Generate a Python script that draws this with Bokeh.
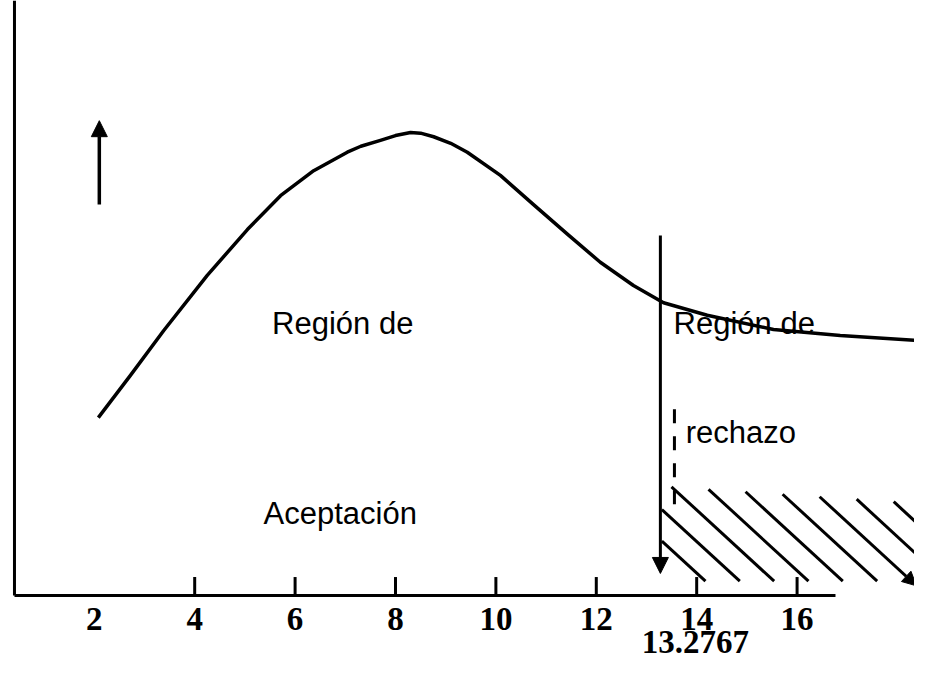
from bokeh.plotting import figure
from bokeh.models import Range1d, Arrow, NormalHead, ColumnDataSource
from bokeh.core.properties import value
from bokeh.embed import file_html
from bokeh.resources import INLINE

# ---- data ----
x_ticks = [2, 4, 6, 8, 10, 12, 14, 16]
tick_labels = ["2", "4", "6", "8", "10", "12", "14", "16"]
critical_value = 13.2767
critical_label = "13.2767"

curve_x = [2.08, 2.72, 3.38, 4.25, 5.05, 5.71, 6.37, 7.04, 7.31, 7.70, 8.00, 8.30, 8.50,
           8.76, 9.10, 9.43, 10.09, 10.75, 11.43, 12.08, 12.74, 13.34, 14.21, 15.53, 16.86, 18.66]
curve_y = [0.299, 0.370, 0.445, 0.538, 0.615, 0.672, 0.714, 0.745, 0.755, 0.765, 0.773, 0.778, 0.777,
           0.771, 0.760, 0.745, 0.706, 0.657, 0.607, 0.560, 0.521, 0.492, 0.471, 0.447, 0.437, 0.427]

region_texts = ["Región de", "Aceptación"]
reject_texts = ["Región de", "rechazo"]

# ---- figure ----
W, H = 914, 659
p = figure(width=W, height=H, output_backend="svg", toolbar_location=None,
           x_range=Range1d(0.1315, 18.339), y_range=Range1d(-0.1076, 1.0),
           x_axis_type=None, y_axis_type=None, min_border=0)
p.outline_line_color = None
p.background_fill_color = "white"
p.border_fill_color = "white"

BLACK = "black"
x_axis_start = 0.41
x_axis_end = 16.765

# axes drawn as lines
p.segment(x0=[x_axis_start], y0=[0], x1=[x_axis_start], y1=[1.0], line_width=3, color=BLACK)
p.segment(x0=[x_axis_start], y0=[0], x1=[x_axis_end], y1=[0], line_width=3, color=BLACK)

# ticks (inside, pointing up), none at the first value
tick_src = ColumnDataSource(dict(x=x_ticks[1:]))
p.segment(x0="x", y0=0, x1="x", y1=0.031, source=tick_src, line_width=3, color=BLACK)

# tick labels
p.text(x=x_ticks, y=[-0.0403] * len(x_ticks), text=tick_labels,
       text_font=value("Liberation Serif"), text_font_style="bold",
       text_font_size="33px", text_align="center", text_baseline="middle", color=BLACK)
p.text(x=[critical_value], y=[-0.0782], text=[critical_label], x_offset=35,
       text_font=value("Liberation Serif"), text_font_style="bold",
       text_font_size="33px", text_align="center", text_baseline="middle", color=BLACK)

# curve
p.line(curve_x, curve_y, line_width=3.5, color=BLACK, line_join="round")

# up arrow
p.add_layout(Arrow(x_start=2.10, y_start=0.657, x_end=2.10, y_end=0.798,
                   line_width=3.5, line_color=BLACK,
                   end=NormalHead(size=16, fill_color=BLACK, line_color=BLACK)))

# critical value arrow (down)
p.add_layout(Arrow(x_start=critical_value, y_start=0.605, x_end=critical_value, y_end=0.037,
                   line_width=3, line_color=BLACK,
                   end=NormalHead(size=16, fill_color=BLACK, line_color=BLACK)))

# dashed line next to the critical arrow
p.segment(x0=[critical_value + 0.28], y0=[0.313], x1=[critical_value + 0.28], y1=[0.148],
          line_width=3, color=BLACK, line_dash="14 13")

# hatch of the rejection region
m = 0.0776          # drop per x unit
y_bot = 0.024
hx0, hy0, hx1, hy1 = [], [], [], []
for k in range(9):
    xb = 14.175 + 0.684 * k
    # intersection with top boundary y = 0.183 - 0.00566 (x - 13.44)
    xt = (y_bot + m * xb - 0.183 - 0.00566 * 13.44) / (m - 0.00566)
    if xt < critical_value + 0.03:
        xt = critical_value + 0.03
    yt = y_bot + m * (xb - xt)
    hx0.append(xt); hy0.append(yt); hx1.append(xb); hy1.append(y_bot)
p.segment(x0=hx0[:6] + hx0[7:], y0=hy0[:6] + hy0[7:], x1=hx1[:6] + hx1[7:], y1=hy1[:6] + hy1[7:],
          line_width=3, color=BLACK)
p.add_layout(Arrow(x_start=hx0[6], y_start=hy0[6], x_end=hx1[6] + 0.1, y_end=y_bot - 0.0078,
                   line_width=3, line_color=BLACK,
                   end=NormalHead(size=14, fill_color=BLACK, line_color=BLACK)))

# region texts
p.text(x=[6.95, 6.90], y=[0.457, 0.138], text=region_texts,
       text_font=value("Liberation Sans"), text_font_size="31px",
       text_align="center", text_baseline="middle", color=BLACK)
p.text(x=[13.54, 13.78], y=[0.457, 0.274], text=reject_texts,
       text_font=value("Liberation Sans"), text_font_size="31px",
       text_align="left", text_baseline="middle", color=BLACK)

open("out.html", "w").write(file_html(p, INLINE))
